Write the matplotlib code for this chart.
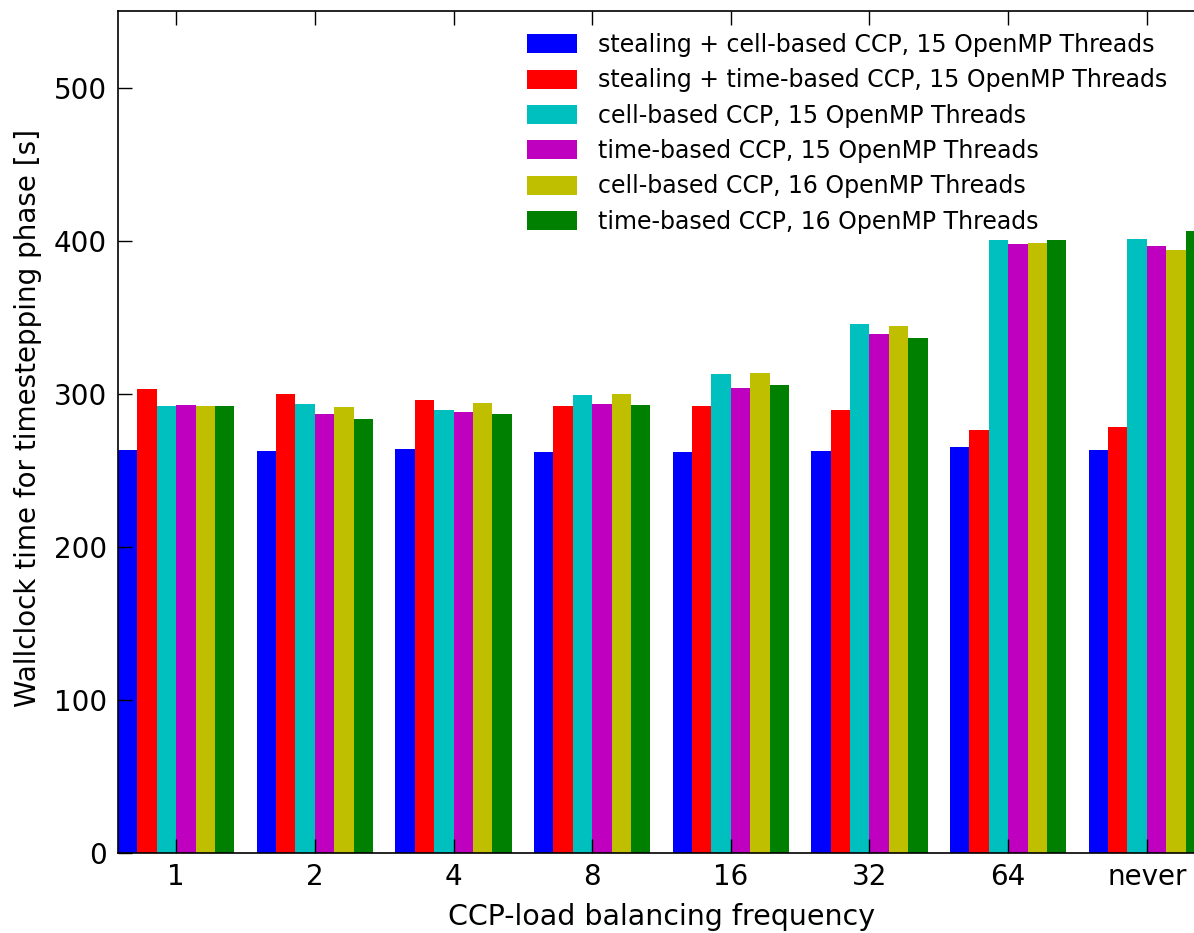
import numpy as np
import matplotlib
matplotlib.use('Agg')
import matplotlib.pyplot as plt

frequencies = ['1', '2', '4', '8', '16', '32', '64', 'never']

series_labels = [
    'stealing + cell-based CCP, 15 OpenMP Threads',
    'stealing + time-based CCP, 15 OpenMP Threads',
    'cell-based CCP, 15 OpenMP Threads',
    'time-based CCP, 15 OpenMP Threads',
    'cell-based CCP, 16 OpenMP Threads',
    'time-based CCP, 16 OpenMP Threads',
]
colors = ['#0000ff', '#ff0000', '#00bfbf', '#bf00bf', '#bfbf00', '#008000']

steal_cell_15 = [263.4, 262.3, 263.8, 262.0, 261.7, 262.7, 264.9, 263.0]
steal_time_15 = [303.3, 299.6, 295.6, 292.2, 291.7, 289.5, 276.0, 278.0]
cell_15 = [292.0, 293.2, 289.3, 298.9, 312.6, 345.5, 400.2, 401.0]
time_15 = [292.8, 286.9, 288.0, 293.0, 303.7, 339.2, 398.0, 396.3]
cell_16 = [291.7, 291.3, 293.7, 300.0, 313.7, 344.4, 398.2, 394.0]
time_16 = [291.7, 283.4, 286.5, 292.8, 305.9, 336.4, 400.7, 406.5]

series = [steal_cell_15, steal_time_15, cell_15, time_15, cell_16, time_16]

plt.rcParams['font.family'] = 'DejaVu Sans'

fig = plt.figure(figsize=(11.94, 9.33), dpi=100)
# the original picture is cropped on the right, so the axes run a bit past the figure edge
ax = fig.add_axes([118 / 1194, 80 / 933, 1087 / 1194, 842 / 933])

width = 0.14
x = np.arange(len(frequencies))
for i, (vals, lab) in enumerate(zip(series, series_labels)):
    ax.bar(x + i * width, vals, width, align='edge', color=colors[i],
           edgecolor='none', label=lab)

ax.set_xlim(0, len(frequencies) - 1 + 6 * width)
ax.set_ylim(0, 550)
ax.set_xticks(x + 3 * width)
ax.set_xticklabels(frequencies)
ax.set_yticks([0, 100, 200, 300, 400, 500])

ax.tick_params(direction='in', length=10, width=1, labelsize=20,
               top=True, right=False)
ax.tick_params(axis='x', pad=7)
ax.tick_params(axis='y', pad=8)
for sp in ax.spines.values():
    sp.set_linewidth(1.2)

ax.set_xlabel('CCP-load balancing frequency', fontsize=20.5, labelpad=9)
ax.set_ylabel('Wallclock time for timestepping phase [s]', fontsize=20)
ax.yaxis.set_label_coords(-0.07, 0.517)

ax.legend(loc='upper left', bbox_to_anchor=(527 / 1194, 1 - 33 / 933),
          bbox_transform=fig.transFigure, frameon=False, fontsize=17,
          borderaxespad=0, borderpad=0, handlelength=2.1, handleheight=0.85,
          handletextpad=0.9, labelspacing=0.48)

fig.savefig('out.png', dpi=100)
